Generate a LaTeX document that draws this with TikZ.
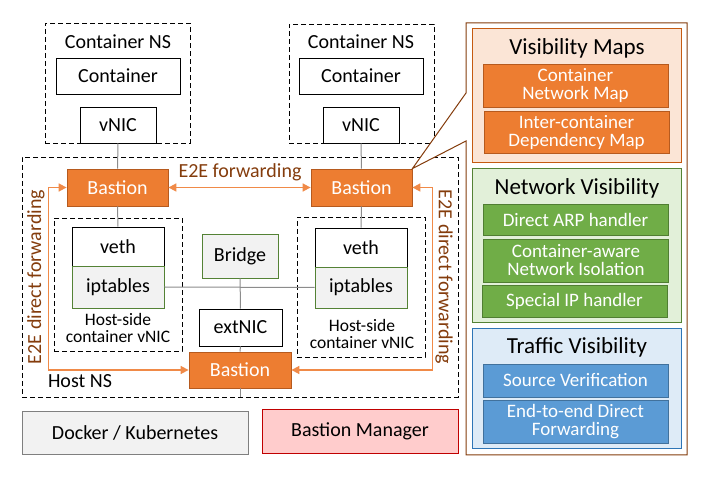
\documentclass[tikz,border=0pt]{standalone}
\usepackage{fontspec}
\setmainfont{Carlito}
\usetikzlibrary{positioning,arrows.meta,calc}
\definecolor{orFill}{HTML}{ED7D31}
\definecolor{orEdge}{HTML}{B65A1E}
\definecolor{peach}{HTML}{FBE5D6}
\definecolor{peachEdge}{HTML}{C55A11}
\definecolor{gnFill}{HTML}{70AD47}
\definecolor{gnEdge}{HTML}{507E32}
\definecolor{mint}{HTML}{E2F0D9}
\definecolor{mintEdge}{HTML}{548235}
\definecolor{blFill}{HTML}{5B9BD5}
\definecolor{blEdge}{HTML}{41719C}
\definecolor{sky}{HTML}{DEEBF7}
\definecolor{skyEdge}{HTML}{2E75B6}
\definecolor{greyFill}{HTML}{F2F2F2}
\definecolor{greyEdge}{HTML}{7F7F7F}
\definecolor{pink}{HTML}{FFCCCC}
\definecolor{pinkEdge}{HTML}{C00000}
\definecolor{linkGrey}{HTML}{8C8C8C}
\definecolor{arrOr}{HTML}{F08A48}
\definecolor{brownTxt}{HTML}{843C0C}

\begin{document}
\begin{tikzpicture}[x=1pt,y=-1pt,
          every node/.style={font=\fontsize{20}{20}\selectfont,
                             align=center,inner sep=0pt},
          nsbox/.style={draw,dash pattern=on 5pt off 3pt,line width=0.8pt},
          plain/.style={draw,line width=0.8pt,fill=white},
          bastion/.style={draw=orEdge,line width=0.8pt,fill=orFill,text=white,
                          minimum width=101pt,minimum height=37pt},
          ipt/.style={draw=mintEdge,line width=0.8pt,fill=greyFill,
                      minimum width=92pt},
          small/.style={font=\fontsize{17.5}{17.5}\selectfont},
          link/.style={draw=linkGrey,line width=1pt},
          e2e/.style={draw=arrOr,line width=1.6pt,
                      {Triangle[length=8pt,width=8pt]}-{Triangle[length=8pt,width=8pt]}},
          panel/.style={line width=0.8pt,minimum width=209pt},
          item/.style={line width=0.8pt,text=white,minimum width=185pt,
                       font=\fontsize{19}{18}\selectfont},
          head/.style={font=\fontsize{23}{23}\selectfont},
        ]
        \useasboundingbox (0,0) rectangle (716,478);
        % host namespace
        \node[nsbox,minimum width=436pt,minimum height=240pt] (hostns) at (240,277) {};
        \node (hostlab) at (80,381) {Host NS};
        % container namespaces
        \node[nsbox,minimum width=145pt,minimum height=120pt] (nsL) at (117.5,83) {};
        \node (nsLlab) at (118,42) {Container NS};
        \node[plain,minimum width=124pt,minimum height=36pt] (contL) at (118,76) {Container};
        \node[plain,minimum width=76pt,minimum height=36pt] (vnicL) at (118,125) {vNIC};

        \node[nsbox,minimum width=145pt,minimum height=119pt] (nsR) at (361.5,83.5) {};
        \node (nsRlab) at (361,42) {Container NS};
        \node[plain,minimum width=124pt,minimum height=36pt] (contR) at (361,76) {Container};
        \node[plain,minimum width=76pt,minimum height=36pt] (vnicR) at (361,125) {vNIC};
        % bastions
        \node[bastion] (bastL) at (117.5,187.5) {Bastion};
        \node[bastion] (bastR) at (361.5,187.5) {Bastion};
        \node[bastion,minimum width=102pt,minimum height=36pt] (bastB) at (240,370) {Bastion};
        % host-side vNICs
        \node[nsbox,minimum width=128pt,minimum height=133pt] (hsL) at (118,284.5) {};
        \node[plain,minimum width=92pt,minimum height=39pt] (vethL) at (118,246.5) {veth};
        \node[ipt,minimum height=42pt] (iptL) at (118,287) {iptables};
        \node[small] (hsLlab) at (118,328) {Host-side\\container vNIC};

        \node[nsbox,minimum width=128pt,minimum height=140pt] (hsR) at (361,287) {};
        \node[plain,minimum width=92pt,minimum height=39pt] (vethR) at (361,247.5) {veth};
        \node[ipt,minimum height=41pt] (iptR) at (361,287.5) {iptables};
        \node[small] (hsRlab) at (362,334) {Host-side\\container vNIC};
        % bridge and external NIC
        \node[ipt,minimum width=76pt,minimum height=44pt] (bridge) at (240,256) {Bridge};
        \node[plain,minimum width=83pt,minimum height=37pt] (extnic) at (240.5,327.5) {extNIC};
        % grey links
        \draw[link] (vnicL) -- (bastL);
        \draw[link] (bastL) -- (vethL);
        \draw[link] (vnicR) -- (bastR);
        \draw[link] (bastR) -- (vethR);
        \draw[link] (iptL.east) -- (iptR.west);
        \draw[link] (bridge) -- (extnic);
        \draw[link] (extnic) -- (bastB);
        \draw[link] (bastB.south) -- (bastB.south |- hostns.south);
        % end-to-end forwarding
        \draw[e2e] (bastL.east) -- (bastR.west);
        \node[text=brownTxt] (e2elab) at (240,172) {E2E forwarding};
        \draw[e2e] (bastL.west) -- ++(-18,0) |- (bastB.west);
        \draw[e2e] (bastR.east) -- ++(20,0) |- (bastB.east);
        \node[text=brownTxt,rotate=90] (dirL) at (36,277) {E2E direct forwarding};
        \node[text=brownTxt,rotate=-90] (dirR) at (444,277) {E2E direct forwarding};
        % bottom bar
        \node[draw=greyEdge,fill=greyFill,line width=0.8pt,minimum width=226pt,
              minimum height=43pt] (docker) at (135,432.5) {Docker / Kubernetes};
        \node[draw=pinkEdge,fill=pink,line width=0.8pt,minimum width=196pt,
              minimum height=44pt] (manager) at (360,431) {Bastion Manager};
        % callout
        \draw[brownTxt,line width=1pt,fill=white] (466,23) -- (687,23) -- (687,455)
              -- (466,455) -- (466,141) -- (bastR.north east) -- (466,93) -- cycle;
        % visibility maps
        \node[panel,draw=peachEdge,fill=peach,minimum height=134pt] (vmap) at (576.5,95) {};
        \node[head] (vmaplab) at (577,48) {Visibility Maps};
        \node[item,draw=orEdge,fill=orFill,minimum height=43pt] (cnm) at (575.5,85.5)
              {Container\\Network Map};
        \node[item,draw=orEdge,fill=orFill,minimum height=42pt] (idm) at (576.5,132)
              {Inter-container\\Dependency Map};
        % network visibility
        \node[panel,draw=mintEdge,fill=mint,minimum height=154pt] (netvis) at (576.5,245) {};
        \node[head] (netvislab) at (577,188) {Network Visibility};
        \node[item,draw=gnEdge,fill=gnFill,minimum height=31pt] (arp) at (575.5,219.5)
              {Direct ARP handler};
        \node[item,draw=gnEdge,fill=gnFill,minimum height=43pt] (iso) at (576,260.5)
              {Container-aware\\Network Isolation};
        \node[item,draw=gnEdge,fill=gnFill,minimum height=32pt] (sip) at (574.5,301)
              {Special IP handler};
        % traffic visibility
        \node[panel,draw=skyEdge,fill=sky,minimum height=120pt] (trafvis) at (576.5,388) {};
        \node[head] (trafvislab) at (577,347) {Traffic Visibility};
        \node[item,draw=blEdge,fill=blFill,minimum height=33pt] (srcv) at (575.5,380.5)
              {Source Verification};
        \node[item,draw=blEdge,fill=blFill,minimum height=43pt] (e2ed) at (575.5,421.5)
              {End-to-end Direct\\Forwarding};
      \end{tikzpicture}
\end{document}
